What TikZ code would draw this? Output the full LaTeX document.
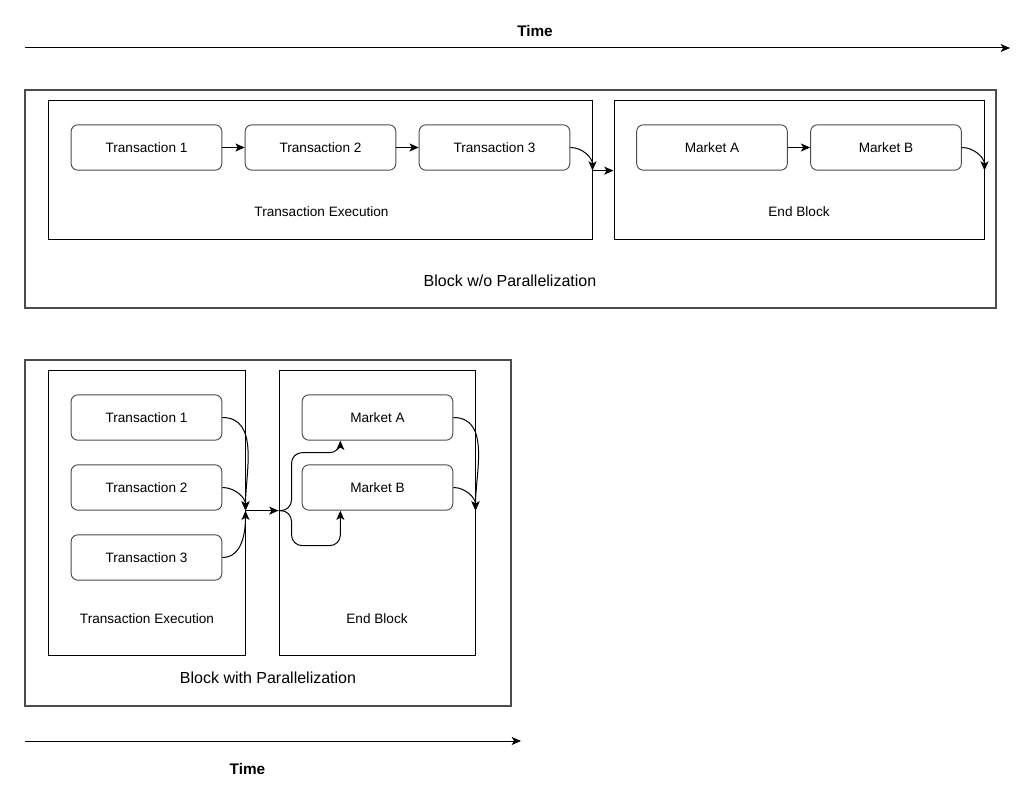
\documentclass[tikz,border=0pt]{standalone}
\usepackage{fontspec}
\setmainfont{Liberation Sans}
\usetikzlibrary{arrows.meta,positioning,calc}
\tikzset{x=0.75pt, y=-0.75pt, % one unit is one pixel of the page
        node distance=130.5pt, % Centre to centre distance between two boxes.
        >={Stealth[length=7pt,width=6pt,inset=1.8pt]},
        task/.style={ % Sets the properties for each transaction / market
            draw=black!70, line width=0.7pt, rounded corners=5pt,
            minimum width=113pt, minimum height=34pt, inner sep=0pt,
            font=\fontsize{10.2}{12}\selectfont},
        frame/.style={draw, line width=0.75pt, inner sep=0pt}, % Boxes around the phases
        outer/.style={draw=black!70, line width=1.1pt, inner sep=0pt},
        lbl/.style={font=\fontsize{10.2}{12}\selectfont},
        biglbl/.style={font=\fontsize{12}{14}\selectfont},
        timelbl/.style={font=\bfseries\fontsize{11.5}{13}\selectfont},
        link/.style={draw, ->, line width=0.75pt},
        every edge/.style={ % Sets the properties for each transition
            draw,
            ->,
            line width=0.75pt}
        }
\begin{document}
\begin{tikzpicture}
    \useasboundingbox (0,0) rectangle (1024,798);

    % time line on top
    \coordinate (ts) at (25,48);
    \coordinate (te) at (1010,48);
    \node[timelbl] (time) at (535,31) {Time};
    \draw[link] (ts) -- (te);

    % block without parallelization
    \node[outer, minimum width=728.25pt, minimum height=163.5pt] (blk) at (510.5,199) {};
    \node[frame, minimum width=408pt, minimum height=104.25pt] (exec) at (320,170.5) {};
    \node[frame, minimum width=277.5pt, minimum height=104.25pt] (endb) at (799,170.5) {};
    \node[lbl] (execlbl) at (321.5,212) {Transaction Execution};
    \node[lbl] (endblbl) at (799,212) {End Block};
    \node[biglbl] (blklbl) at (510,281) {Block w/o Parallelization};

    \node[task] (t1) at (146.5,147.5) {Transaction 1};
    \node[task] (t2) [right of=t1] {Transaction 2};
    \node[task] (t3) [right of=t2] {Transaction 3};
    \node[task] (ma) at (712,147.5) {Market A};
    \node[task] (mb) [right of=ma] {Market B};

    \coordinate (ja) at (exec.east |- t3.south);
    \coordinate (jb) at (endb.west |- t3.south);
    \coordinate (jc) at (endb.east |- mb.south);

    \draw
        (t1) edge (t2)
        (t2) edge (t3)
        (t3.east) edge [out=0, in=90] (ja)
        (ja) edge (jb)
        (ma) edge (mb)
        (mb.east) edge [out=0, in=90] (jc);

    % block with parallelization
    \node[outer, minimum width=364.5pt, minimum height=259.5pt] (pblk) at (268,533) {};
    \node[frame, minimum width=147.75pt, minimum height=213pt] (pexec) at (146.5,513) {};
    \node[frame, minimum width=147pt, minimum height=213pt] (pendb) at (377,513) {};
    \node[lbl] (pexeclbl) at (147,619) {Transaction Execution};
    \node[lbl] (pendblbl) at (377,619) {End Block};
    \node[biglbl] (pblklbl) at (268,678) {Block with Parallelization};

    \begin{scope}[node distance=52.5pt]
        \node[task] (pt1) at (146.5,417.5) {Transaction 1};
        \node[task] (pt2) [below of=pt1] {Transaction 2};
        \node[task] (pt3) [below of=pt2] {Transaction 3};
        \node[task] (pma) at (377.5,417.5) {Market A};
        \node[task] (pmb) [below of=pma] {Market B};
    \end{scope}

    \coordinate (pja) at (pexec.east |- pt2.south);
    \coordinate (pjb) at (pendb.west |- pt2.south);
    \coordinate (pjc) at (pendb.east |- pmb.south);

    \draw
        (pt1.east) edge [out=0, in=90] (pja)
        (pt2.east) edge [out=0, in=90] (pja)
        (pt3.east) edge [out=0, in=-90] (pja)
        (pja) edge (pjb)
        (pma.east) edge [out=0, in=90] (pjc)
        (pmb.east) edge [out=0, in=90] (pjc);

    \draw[link, rounded corners=8pt]
        (pjb) -| ($(pjb)+(13,-58)$) -| ([xshift=29pt]pma.south west);
    \draw[link, rounded corners=8pt]
        (pjb) -| ($(pjb)+(13,35)$) -| ([xshift=29pt]pmb.south west);

    % time line at the bottom
    \coordinate (bs) at (25,741);
    \coordinate (be) at (521,741);
    \node[timelbl] (btime) at (247.5,769) {Time};
    \draw[link] (bs) -- (be);
\end{tikzpicture}
\end{document}
